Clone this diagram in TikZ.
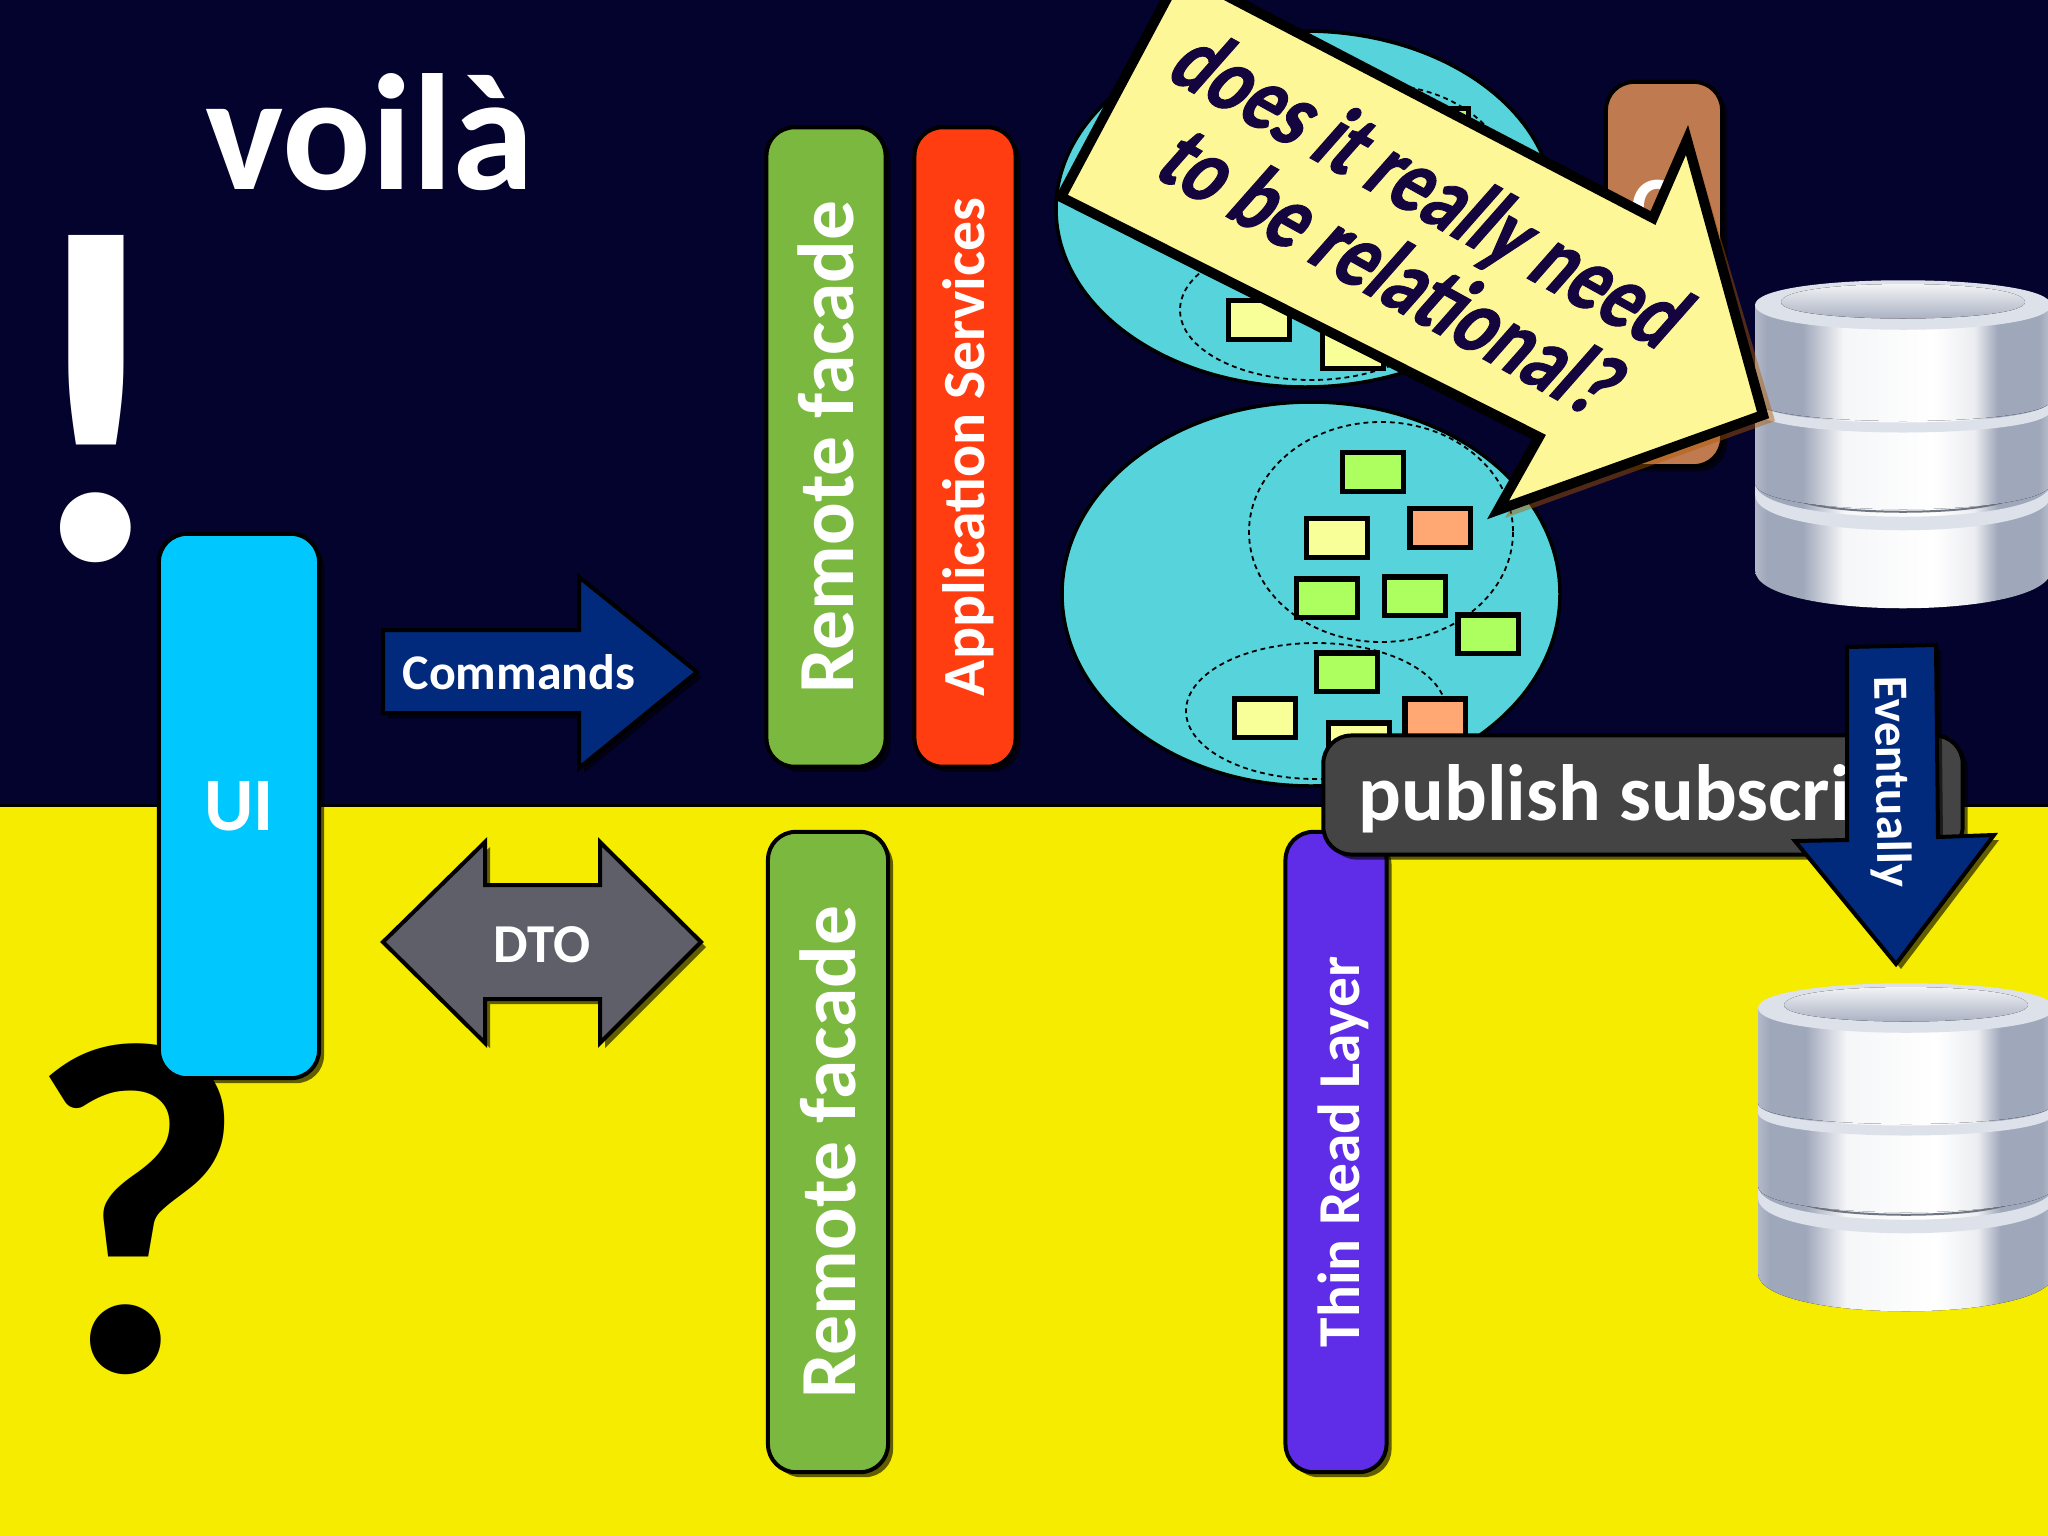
\documentclass[tikz,border=0pt]{standalone}
\usepackage{fontspec}
\setmainfont{Carlito}
\newfontfamily\bannerfont[UprightFont=* Bold,FakeStretch=0.78,FakeSlant=0.22,FakeBold=1]{Carlito}
\usetikzlibrary{shadows}

\definecolor{nightbg}{HTML}{03032D}
\definecolor{daybg}{HTML}{F5EC00}
\definecolor{uicol}{HTML}{00C8FF}
\definecolor{facadecol}{HTML}{7AB83F}
\definecolor{servicecol}{HTML}{FF3D10}
\definecolor{readcol}{HTML}{5F2DE8}
\definecolor{brokercol}{HTML}{444444}
\definecolor{handlercol}{HTML}{C07A50}
\definecolor{commandcol}{HTML}{012A7C}
\definecolor{dtocol}{HTML}{5F5F6A}
\definecolor{domaincol}{HTML}{57D3DC}
\definecolor{bannercol}{HTML}{FDF798}
\definecolor{bannerink}{HTML}{14053F}
\definecolor{notegreen}{HTML}{ADFF5F}
\definecolor{noteyellow}{HTML}{F8FF99}
\definecolor{noteorange}{HTML}{FFA873}
\definecolor{dbedge}{HTML}{9FA7BA}
\definecolor{dbrim}{HTML}{DDE1EA}

\pgfdeclarehorizontalshading{dbmetal}{100bp}{color(0bp)=(dbedge); color(25bp)=(dbedge!80!white);
  color(27bp)=(dbedge); color(33bp)=(dbedge); color(40bp)=(white!90!dbedge); color(55bp)=(white); color(62bp)=(white!80!dbedge);
  color(66bp)=(dbedge); color(73bp)=(dbedge); color(75bp)=(dbedge!70!white); color(100bp)=(dbedge)}

\tikzset{
  softshadow/.style={drop shadow={fill=black,shadow xshift=0.05cm,shadow yshift=-0.05cm,opacity=0.6}},
  layerbox/.style={draw=black,line width=0.04cm,rounded corners=0.28cm,text=white,font=\bfseries,inner sep=0pt,softshadow},
  domainblob/.style={draw=black,line width=0.035cm,fill=domaincol},
  contextline/.style={draw=black,line width=0.018cm,dash pattern=on 1.4pt off 1.1pt},
  stickynote/.style={draw=black,line width=0.05cm,minimum width=0.6cm,minimum height=0.38cm,inner sep=0pt},
  blockarrow/.style={draw=black,line width=0.04cm,line join=miter,softshadow},
  whitetext/.style={text=white,font=\bfseries,inner sep=0pt},
  dbstack/.pic={
    % discul de jos
    \fill[shading=dbmetal] (-148,203) -- (-148,290) .. controls (-148,341) and (148,341) .. (148,290) -- (148,203) -- cycle;
    \draw[dbedge!70!black,line width=0.02cm] (-100,222) .. controls (-60,235) and (60,235) .. (100,222);
    \fill[dbrim] (-148,203) .. controls (-148,248) and (148,248) .. (148,203) -- (148,215) .. controls (148,262) and (-148,262) .. (-148,215) -- cycle;
    % discul din mijloc
    \fill[shading=dbmetal] (-148,120) -- (-148,203) .. controls (-148,238) and (148,238) .. (148,203) -- (148,120) -- cycle;
    \draw[dbedge!70!black,line width=0.02cm] (-100,127) .. controls (-60,135) and (60,135) .. (100,127);
    \fill[dbrim] (-148,120) .. controls (-148,150) and (148,150) .. (148,120) -- (148,130) .. controls (148,160) and (-148,160) .. (-148,130) -- cycle;
    % discul de sus
    \fill[shading=dbmetal] (-148,25) -- (-148,120) .. controls (-148,148) and (148,148) .. (148,120) -- (148,25) -- cycle;
    \fill[dbrim] (-148,25) .. controls (-148,-8) and (148,-8) .. (148,25) .. controls (148,58) and (-148,58) .. (-148,25) -- cycle;
    \fill[top color=white,bottom color=dbedge] (-122,22) .. controls (-122,-2) and (122,-2) .. (122,22) .. controls (122,44) and (-122,44) .. (-122,22) -- cycle;
  }
}

\begin{document}
\begin{tikzpicture}[x=0.01cm,y=-0.01cm]
  \useasboundingbox (0,0) rectangle (2048,1536);

  % fundal
  \fill[nightbg] (0,0) rectangle (2048,805);
  \fill[daybg] (0,805) rectangle (2048,1536);
  \draw[black,line width=0.03cm] (0,805) -- (2048,805);

  % titlu si semne
  \node (title) [anchor=base,text=white,font=\fontsize{47}{47}\selectfont\bfseries,inner sep=0pt] at (370,189) {voilà};
  \node (bang) [anchor=base,text=white,font=\fontsize{135}{135}\selectfont\bfseries,inner sep=0pt] at (96,559) {!};
  \node (huh) [anchor=base,text=black,font=\fontsize{135}{135}\selectfont\bfseries,inner sep=0pt] at (136,1371) {?};

  % cutii
  \node (ui) [layerbox,fill=uicol,minimum width=1.6cm,minimum height=5.44cm,font=\fontsize{21.5}{21.5}\selectfont\bfseries] at (239,806) {UI};
  \node (facadeTop) [layerbox,fill=facadecol,rotate=90,minimum width=6.39cm,minimum height=1.19cm,font=\fontsize{22.6}{22.6}\selectfont\bfseries] at (826,447) {Remote facade};
  \node (services) [layerbox,fill=servicecol,rotate=90,minimum width=6.39cm,minimum height=1.01cm,font=\fontsize{17}{17}\selectfont\bfseries] at (965,447) {\raisebox{-5.6pt}[0pt][0pt]{Application Services}};
  \node (facadeBottom) [layerbox,fill=facadecol,rotate=90,minimum width=6.4cm,minimum height=1.2cm,font=\fontsize{22.6}{22.6}\selectfont\bfseries] at (828,1152) {Remote facade};
  \node (readLayer) [layerbox,fill=readcol,rotate=90,minimum width=6.4cm,minimum height=1.01cm,font=\fontsize{16.9}{16.9}\selectfont\bfseries] at (1336,1152) {\raisebox{-6.6pt}[0pt][0pt]{Thin Read Layer}};

  % sageti
  \draw[blockarrow,fill=commandcol] (383,630) -- (579,630) -- (579,577) -- (697,672) -- (579,768) -- (579,713) -- (383,713) -- cycle;
  \node (commands) [whitetext,font=\fontsize{14.2}{14.2}\selectfont\bfseries] at (519,672) {Commands};
  \draw[blockarrow,fill=dtocol] (383,942) -- (485,842) -- (485,885) -- (600,885) -- (600,842) -- (701,942) -- (600,1043) -- (600,999) -- (485,999) -- (485,1043) -- cycle;
  \node (dto) [whitetext,font=\fontsize{15.6}{15.6}\selectfont\bfseries] at (542,945) {DTO};

  % domeniul de sus
  \draw[domainblob] (1305,209) ellipse [x radius=249,y radius=178];
  \draw[contextline] (1381,190) ellipse [x radius=132,y radius=105];
  \draw[contextline] (1311,310) ellipse [x radius=131,y radius=70];
  \node (noteA) [stickynote,fill=notegreen] at (1438,128) {};
  \node (noteB) [stickynote,fill=noteyellow] at (1259,320) {};
  \node (noteC) [stickynote,fill=noteyellow] at (1353,349) {};

  % domeniul de jos
  \draw[domainblob] (1311,594) ellipse [x radius=249,y radius=192];
  \draw[contextline] (1381,532) ellipse [x radius=132,y radius=110];
  \draw[contextline] (1316,711) ellipse [x radius=130,y radius=68];
  \node (noteD) [stickynote,fill=notegreen] at (1373,472) {};
  \node (noteE) [stickynote,fill=noteorange] at (1440,528) {};
  \node (noteF) [stickynote,fill=noteyellow] at (1337,538) {};
  \node (noteG) [stickynote,fill=notegreen] at (1327,598) {};
  \node (noteH) [stickynote,fill=notegreen] at (1415,596) {};
  \node (noteI) [stickynote,fill=notegreen] at (1488,634) {};
  \node (noteJ) [stickynote,fill=notegreen] at (1347,672) {};
  \node (noteK) [stickynote,fill=noteyellow] at (1265,718) {};
  \node (noteL) [stickynote,fill=noteorange] at (1435,718) {};
  \node (noteM) [stickynote,fill=noteyellow] at (1359,742) {};

  % handler, in spatele bannerului
  \node (handler) [layerbox,fill=handlercol,minimum width=1.16cm,minimum height=3.84cm] at (1664,274) {};
  \node (handlerText) [whitetext,font=\fontsize{24}{24}\selectfont\bfseries] at (1654,208) {C};

  % baze de date
  \pic at (1903,280) {dbstack};
  \pic at (1906,983) {dbstack};

  % publish subscribe
  \node (broker) [layerbox,fill=brokercol,minimum width=6.39cm,minimum height=1.19cm] at (1643,795) {};
  \node (brokerText) [whitetext,anchor=base west,font=\fontsize{22.7}{22.7}\selectfont\bfseries] at (1358,820) {publish subscri};

  % eventually
  \draw[blockarrow,fill=commandcol] (1847,647) -- (1936,645) -- (1938,837) -- (1994,835) -- (1896,964) -- (1795,841) -- (1847,840) -- cycle;
  \node (eventually) [whitetext,rotate=-89,font=\fontsize{14}{14}\selectfont\bfseries] at (1890,782) {Eventually};

  % banner
  \fill[orange!70!black,opacity=0.45] (1188,-24) -- (1661,224) -- (1694,148) -- (1775,421) -- (1505,518) -- (1546,443) -- cycle;
  \draw[fill=bannercol,draw=black,line width=0.1cm,line join=miter] (1181,-28) -- (1653,218) -- (1687,140) -- (1763,415) -- (1498,510) -- (1539,437) -- (1061,197) -- cycle;
  \node (bannerTop) [rotate=-29,text=bannerink,inner sep=0pt,font=\fontsize{27}{27}\selectfont\bannerfont] at (1423,191) {does it really need};
  \node (bannerBottom) [rotate=-29,text=bannerink,inner sep=0pt,font=\fontsize{27}{27}\selectfont\bannerfont] at (1387,268) {to be relational?};
\end{tikzpicture}
\end{document}
